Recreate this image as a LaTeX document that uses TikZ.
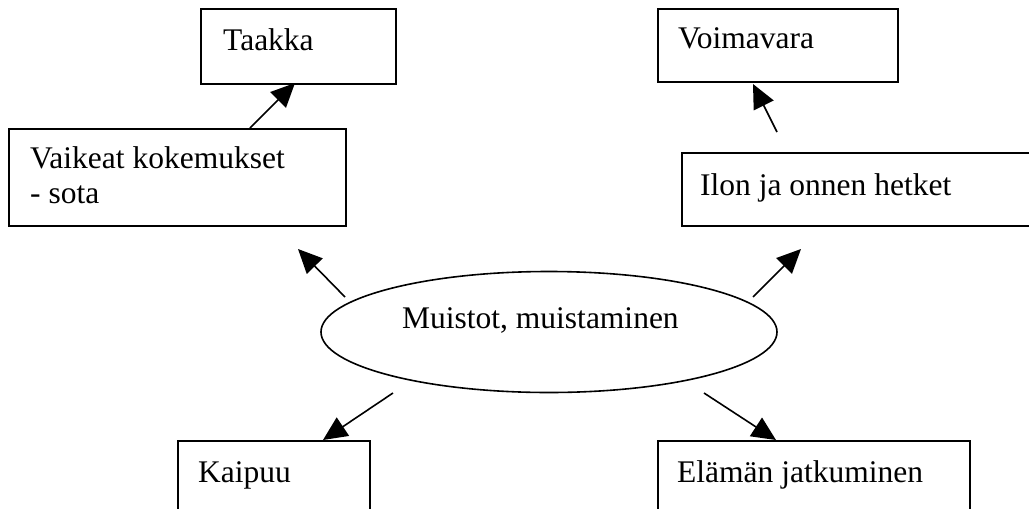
\documentclass[tikz,border=0pt]{standalone}
\usepackage{fontspec}
\setmainfont{Liberation Serif}
\usetikzlibrary{shapes.geometric,arrows.meta}
\begin{document}
\begin{tikzpicture}[x=1pt,y=-1pt,
  box/.style={draw,line width=1.6pt,rectangle,anchor=north west,inner sep=0pt},
  oval/.style={draw,line width=1.6pt,ellipse,inner sep=0pt,minimum width=456pt,minimum height=121pt},
  lbl/.style={anchor=base west,inner sep=0pt,font=\fontsize{31.5}{35}\selectfont},
  link/.style={line width=1.6pt,-{Triangle[length=24pt,width=22pt]}}]
\useasboundingbox (0,0) rectangle (1029,509);
\clip (0,0) rectangle (1029,509);

% boxes
\node[box,minimum width=195pt,minimum height=75pt] (taakka) at (200,8) {};
\node[box,minimum width=337pt,minimum height=97pt] (vaikeat) at (8,128) {};
\node[box,minimum width=240pt,minimum height=73pt] (voima) at (657,8) {};
\node[box,minimum width=360pt,minimum height=73pt] (ilo) at (681,152) {};
\node[box,minimum width=192pt,minimum height=90pt] (kaipuu) at (177,440) {};
\node[box,minimum width=312pt,minimum height=90pt] (elama) at (657,440) {};
\node[oval] (muisto) at (549,332) {};

% labels
\node[lbl] (tTaakka) at (223,50) {Taakka};
\node[lbl] (tVaikeat1) at (30,168) {Vaikeat kokemukset};
\node[lbl] (tVaikeat2) at (30,203) {- sota};
\node[lbl] (tVoima) at (678,48) {Voimavara};
\node[lbl] (tIlo) at (700,195) {Ilon ja onnen hetket};
\node[lbl] (tKaipuu) at (198,482) {Kaipuu};
\node[lbl] (tElama) at (677,482) {Elämän jatkuminen};
\node[lbl] (tMuisto) at (402,328) {Muistot, muistaminen};

% connector end points
\coordinate (vaOut) at (250,128);
\coordinate (taIn) at (295,83);
\coordinate (ilOut) at (777,132);
\coordinate (voIn) at (753,84);
\coordinate (mUL) at (345,297);
\coordinate (vaIn) at (298,249);
\coordinate (mUR) at (753,297);
\coordinate (ilIn) at (801,249);
\coordinate (mDL) at (393,393);
\coordinate (kaIn) at (323,440);
\coordinate (mDR) at (704,393);
\coordinate (elIn) at (776,440);

% arrows
\draw[link] (vaOut) -- (taIn);
\draw[link] (ilOut) -- (voIn);
\draw[link] (mUL) -- (vaIn);
\draw[link] (mUR) -- (ilIn);
\draw[link] (mDL) -- (kaIn);
\draw[link] (mDR) -- (elIn);
\end{tikzpicture}
\end{document}
